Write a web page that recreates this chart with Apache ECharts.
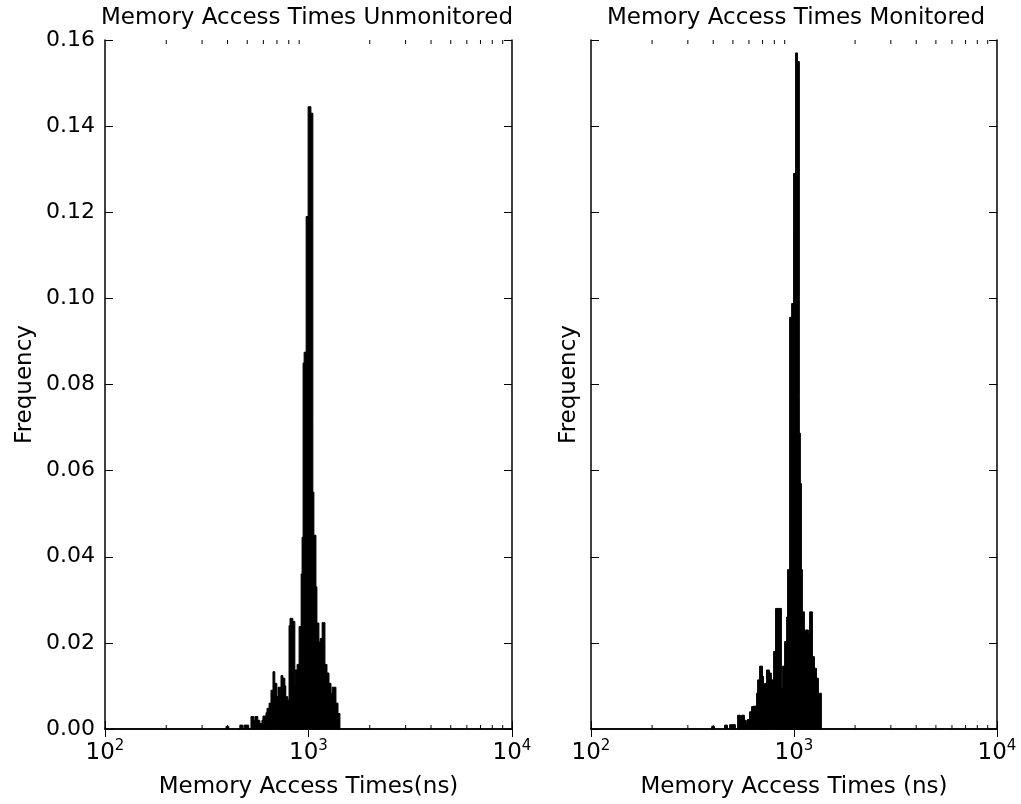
<!DOCTYPE html>
<html>
<head>
<meta charset="utf-8">
<script src="https://cdn.jsdelivr.net/npm/echarts@6/dist/echarts.min.js"></script>
<style>
html, body { margin: 0; padding: 0; background: #fff; }
#chart { width: 1021px; height: 804px; }
</style>
</head>
<body>
<div id="chart"></div>
<script>
// histogram bin edges (ns) and frequencies
const unmonEdges = [395, 404, 462, 473, 484, 506, 524, 536, 548, 561, 574, 593, 600, 621, 628, 643, 657, 672, 680, 696,
  712, 728, 736, 745, 762, 770, 788, 806, 815, 834, 853, 863, 883, 903, 924, 934, 945, 956, 978, 1000,
  1023, 1046, 1058, 1083, 1095, 1120, 1146, 1172, 1199, 1227, 1255, 1284, 1313, 1358, 1390, 1421]
const unmonFreq = [0.0006, 0, 0.0009, 0, 0.0009, 0, 0.0029, 0.002, 0.0029, 0.002, 0.0013, 0.002, 0.003, 0.0038, 0.0048,
  0.006, 0.009, 0.0133, 0.0106, 0.0075, 0.0097, 0.008, 0.0124, 0.0118, 0.010, 0.0075, 0.0067, 0.024, 0.0257, 0.025,
  0.0098, 0.0137, 0.015, 0.0238, 0.036, 0.0445, 0.085, 0.0875, 0.119, 0.1445, 0.143, 0.055, 0.045, 0.033, 0.0246,
  0.0202, 0.021, 0.0247, 0.015, 0.013, 0.0106, 0.0083, 0.0097, 0.006, 0.0036]

const monEdges = [395, 404, 457, 468, 484, 512, 530, 542, 554, 567, 580, 593, 607, 621, 635, 657, 665, 680, 696, 704,
  720, 736, 753, 770, 788, 797, 815, 834, 844, 863, 883, 903, 924, 934, 956, 978, 1000, 1023, 1035, 1058,
  1070, 1083, 1095, 1120, 1146, 1172, 1199, 1227, 1255, 1284, 1313, 1358]
const monFreq = [0.0006, 0, 0.0009, 0, 0.001, 0, 0.0032, 0.0022, 0.0032, 0.002, 0.0013, 0.0022, 0.004, 0.0052, 0.0053,
  0.0083, 0.0114, 0.0146, 0.0122, 0.0104, 0.0106, 0.0137, 0.013, 0.0114, 0.0075, 0.018, 0.028, 0.0265, 0.028, 0.0094,
  0.0146, 0.0203, 0.026, 0.037, 0.0956, 0.0988, 0.129, 0.157, 0.155, 0.0687, 0.057, 0.037, 0.0272, 0.0226, 0.023,
  0.022, 0.0272, 0.0168, 0.0141, 0.0118, 0.0083]

const minorTicks = [200, 300, 400, 500, 600, 700, 800, 900, 2000, 3000, 4000, 5000, 6000, 7000, 8000, 9000]

const font = 'DejaVu Sans'

function toBins (edges, freq) {
  const out = []
  for (let i = 0; i < freq.length; i++) {
    if (freq[i] > 0) out.push([edges[i], edges[i + 1], freq[i]])
  }
  return out
}

function renderBar (params, api) {
  const p0 = api.coord([api.value(0), api.value(2)])
  const p1 = api.coord([api.value(1), 0])
  // a little overlap so neighbouring bins do not leave hairline gaps
  return {
    type: 'rect',
    shape: { x: p0[0] - 0.4, y: p0[1], width: p1[0] - p0[0] + 0.8, height: p1[1] - p0[1] },
    style: { fill: '#000', stroke: '#000', lineWidth: 1 }
  }
}

function renderMinor (params, api) {
  const b = api.coord([api.value(0), 0])
  const t = api.coord([api.value(0), 0.16])
  return {
    type: 'group',
    children: [
      { type: 'line', shape: { x1: b[0], y1: b[1], x2: b[0], y2: b[1] - 4 }, style: { stroke: '#000', lineWidth: 1 } },
      { type: 'line', shape: { x1: t[0], y1: t[1], x2: t[0], y2: t[1] + 4 }, style: { stroke: '#000', lineWidth: 1 } }
    ]
  }
}

function xAx (grid, bottom, name) {
  return {
    type: 'log',
    logBase: 10,
    gridIndex: grid,
    position: bottom ? 'bottom' : 'top',
    min: 100,
    max: 10000,
    axisLine: { lineStyle: { color: '#000', width: 1.5 } },
    axisTick: { inside: true, length: 8, lineStyle: { color: '#000', width: 1 } },
    splitLine: { show: false },
    axisLabel: {
      show: bottom,
      margin: 10,
      formatter: v => '{b|10}{s|' + Math.round(Math.log10(v)) + '}',
      rich: {
        b: { fontSize: 23, fontFamily: font, color: '#000', lineHeight: 28 },
        s: { fontSize: 15, fontFamily: font, color: '#000', verticalAlign: 'top', lineHeight: 16 }
      }
    },
    name: bottom ? name : '',
    nameLocation: 'middle',
    nameGap: 47,
    nameTextStyle: { fontSize: 23, fontFamily: font, color: '#000' }
  }
}

function yAx (grid, left, labels, name, gap) {
  return {
    type: 'value',
    gridIndex: grid,
    position: left ? 'left' : 'right',
    min: 0,
    max: 0.16,
    interval: 0.02,
    axisLine: { show: true, lineStyle: { color: '#000', width: 1.5 } },
    axisTick: { show: true, inside: true, length: 8, lineStyle: { color: '#000', width: 1 } },
    splitLine: { show: false },
    axisLabel: {
      show: labels,
      margin: 10,
      fontSize: 22,
      fontFamily: font,
      color: '#000',
      formatter: v => v.toFixed(2)
    },
    name: name,
    nameLocation: 'middle',
    nameGap: gap,
    nameTextStyle: { fontSize: 23, fontFamily: font, color: '#000' }
  }
}

const myChart = echarts.init(document.getElementById('chart'), null, { renderer: 'canvas' })
const option = {
  animation: false,
  backgroundColor: '#fff',
  textStyle: { fontFamily: font },
  title: [
    {
      text: 'Memory Access Times Unmonitored',
      left: 302,
      textAlign: 'center',
      top: 2,
      textStyle: { fontSize: 23, fontWeight: 'normal', fontFamily: font, color: '#000' }
    },
    {
      text: 'Memory Access Times Monitored',
      left: 791,
      textAlign: 'center',
      top: 2,
      textStyle: { fontSize: 23, fontWeight: 'normal', fontFamily: font, color: '#000' }
    }
  ],
  grid: [
    { left: 105, top: 40, width: 407, height: 689 },
    { left: 591, top: 40, width: 406, height: 689 }
  ],
  xAxis: [
    xAx(0, true, 'Memory Access Times(ns)'),
    xAx(0, false, ''),
    xAx(1, true, 'Memory Access Times (ns)'),
    xAx(1, false, '')
  ],
  yAxis: [
    yAx(0, true, true, 'Frequency', 68),
    yAx(0, false, false, '', 0),
    yAx(1, true, false, 'Frequency', 10),
    yAx(1, false, false, '', 0)
  ],
  series: [
    {
      type: 'custom',
      xAxisIndex: 0,
      yAxisIndex: 0,
      renderItem: renderBar,
      encode: { x: [0, 1], y: 2 },
      data: toBins(unmonEdges, unmonFreq)
    },
    {
      type: 'custom',
      xAxisIndex: 2,
      yAxisIndex: 2,
      renderItem: renderBar,
      encode: { x: [0, 1], y: 2 },
      data: toBins(monEdges, monFreq)
    },
    {
      type: 'custom',
      xAxisIndex: 0,
      yAxisIndex: 0,
      renderItem: renderMinor,
      encode: { x: 0 },
      data: minorTicks.map(v => [v])
    },
    {
      type: 'custom',
      xAxisIndex: 2,
      yAxisIndex: 2,
      renderItem: renderMinor,
      encode: { x: 0 },
      data: minorTicks.map(v => [v])
    }
  ]
}
myChart.setOption(option)
</script>
</body>
</html>
